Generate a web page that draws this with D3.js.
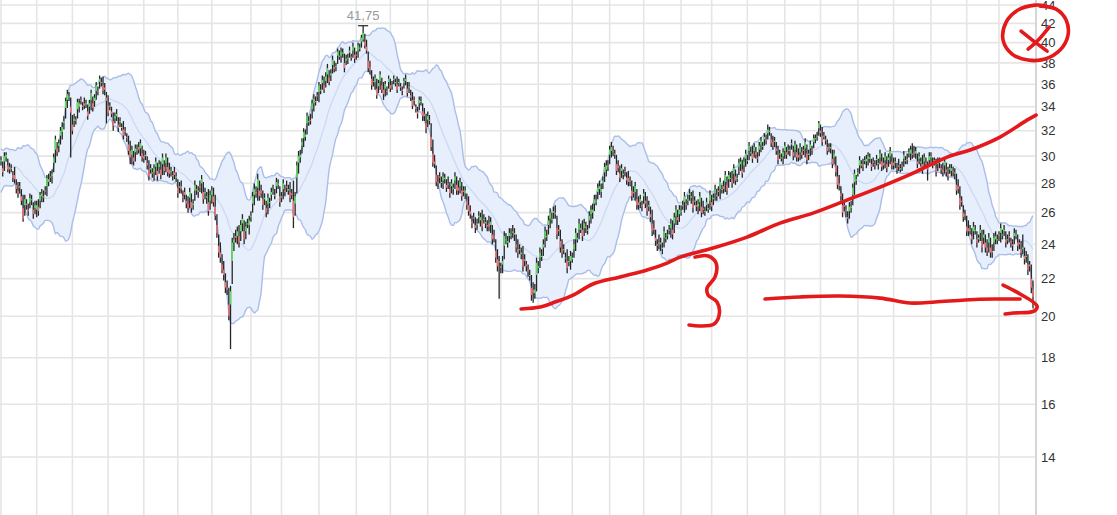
<!DOCTYPE html>
<html><head><meta charset="utf-8">
<script src="https://cdn.jsdelivr.net/npm/d3@7"></script>
<style>html,body{margin:0;padding:0;background:#fff;overflow:hidden}svg{display:block}</style>
</head><body><svg id="c" width="1117" height="515"></svg>
<script>
// ---- daily candles (bar index 0..607) ----
const open=[
29.6,29.1,29.6,29.9,29.3,29.2,29.1,28.6,28.6,27.9,
27.5,27.7,27.1,26.3,26.5,26.6,26.2,26.7,26.9,26.2,
26.3,26.2,26.4,26.8,27.1,27.1,27.5,27.8,28.1,28.5,
28.5,29.5,30.5,30.6,30.8,31.6,31.9,32.6,33.9,34.6,
34.9,34.0,32.5,32.8,32.9,33.8,34.0,34.6,34.1,34.3,
34.2,33.6,34.0,34.6,34.3,34.5,35.4,35.4,36.2,36.2,
35.9,35.7,34.8,34.1,34.1,33.6,32.8,33.0,33.2,32.5,
32.7,32.3,32.1,32.0,31.5,30.9,30.4,30.1,29.9,30.3,
30.5,30.7,30.6,30.2,30.0,30.0,29.5,29.0,29.0,28.8,
28.8,29.2,28.9,29.2,29.0,29.4,29.2,29.5,29.2,29.0,
28.8,28.6,28.8,28.4,27.7,27.7,27.8,27.1,27.4,26.8,
26.6,27.0,26.7,26.5,27.5,27.6,27.4,27.8,28.0,27.4,
27.3,27.0,26.7,26.8,27.2,27.1,26.4,25.2,23.9,23.5,
22.8,22.5,21.8,21.5,20.6,20.6,23.0,24.1,24.5,24.5,
24.5,24.8,25.3,24.8,24.8,25.3,25.2,25.7,26.6,27.2,
27.4,27.7,27.5,27.5,26.9,26.9,26.3,26.6,26.7,27.2,
27.5,27.2,27.8,27.9,27.1,27.0,27.6,27.5,27.8,27.5,
27.4,27.3,26.8,26.6,28.4,29.5,29.9,30.8,31.4,31.5,
32.6,32.7,32.9,33.8,34.3,34.5,35.0,35.3,35.4,36.1,
35.9,36.3,36.9,36.6,36.8,37.8,37.6,37.6,38.7,38.7,
38.7,38.9,38.0,38.2,38.4,39.0,38.6,39.2,38.8,38.8,
39.2,39.4,40.1,40.3,40.1,39.6,38.2,37.6,36.5,36.3,
36.2,35.6,35.8,36.3,35.9,35.5,35.6,35.4,36.2,35.9,
35.9,36.4,36.1,36.0,36.1,35.8,35.5,36.1,36.3,35.6,
35.7,35.0,34.6,34.6,34.0,33.6,34.3,34.4,33.6,33.4,
32.6,32.9,32.9,31.5,30.2,29.6,28.6,28.1,28.5,28.1,
28.2,28.3,27.9,28.0,27.6,27.8,27.6,28.2,27.9,27.7,
27.8,27.5,27.5,27.3,26.8,26.5,26.1,25.4,25.7,25.2,
25.2,25.7,25.5,25.5,25.6,25.3,25.2,25.3,25.2,24.6,
24.5,23.6,23.1,23.0,22.7,22.8,23.9,24.3,24.1,24.5,
24.6,24.8,24.6,24.0,23.7,23.7,23.4,23.1,23.1,22.8,
22.5,22.2,21.5,21.4,21.2,22.2,22.6,23.2,23.3,23.8,
24.4,24.5,25.2,25.6,25.6,26.0,26.0,25.0,24.9,24.2,
23.7,23.7,23.2,23.0,23.0,23.0,23.1,23.7,24.3,24.3,
24.9,24.9,24.9,25.0,25.1,24.9,25.5,25.9,26.0,26.6,
26.8,27.4,27.6,27.4,28.0,28.8,29.0,29.3,30.1,30.4,
30.4,30.1,29.4,29.3,28.7,28.9,28.6,28.9,28.4,28.4,
28.2,27.5,27.4,27.4,26.9,26.7,26.7,26.5,27.1,26.8,
26.4,26.4,25.9,25.3,25.0,24.4,24.0,24.1,24.0,23.7,
24.4,24.4,24.6,24.9,25.0,24.9,25.3,25.8,25.7,25.9,
26.1,26.5,26.7,26.6,26.8,27.2,27.0,26.8,26.8,26.5,
26.4,26.7,26.4,26.3,26.1,26.5,26.2,26.8,26.7,26.9,
27.3,27.2,27.5,27.6,27.6,27.8,28.1,27.9,28.3,28.4,
28.3,28.7,28.5,28.4,29.2,29.4,29.0,29.3,29.8,29.7,
30.4,30.3,30.2,30.4,30.3,29.9,30.5,30.9,30.8,31.3,
31.3,31.8,31.9,31.3,31.1,31.1,30.6,30.1,30.2,29.9,
30.0,30.4,30.3,30.5,30.4,30.9,30.3,30.5,30.3,30.1,
30.3,30.3,30.5,30.6,30.2,30.1,30.6,30.5,31.1,31.3,
31.6,32.2,32.0,31.6,31.6,31.3,30.7,30.7,30.6,29.8,
29.9,29.3,28.5,28.0,27.3,26.5,26.5,26.2,25.7,26.1,
26.3,27.2,28.1,28.2,28.7,29.3,29.3,29.4,29.7,29.6,
29.8,29.8,29.4,29.6,29.4,29.7,29.4,29.9,29.6,29.5,
29.7,29.4,29.7,30.0,29.6,29.5,29.5,29.1,29.3,29.0,
29.3,29.8,29.7,29.8,30.2,30.2,30.2,30.3,30.2,29.6,
29.8,29.5,29.4,29.6,29.5,29.1,29.7,29.9,29.5,29.7,
29.1,29.4,29.5,29.1,29.0,29.3,29.0,28.7,29.0,28.9,
28.9,28.7,27.9,27.8,27.0,26.8,26.0,25.9,25.1,25.0,
24.9,24.5,24.8,24.9,24.3,24.3,24.7,24.2,24.4,24.1,
23.8,24.1,23.8,23.6,24.1,24.3,24.3,24.6,24.7,24.6,
24.8,24.3,24.3,24.5,24.2,24.0,24.5,24.5,24.1,24.1,
23.7,23.7,23.3,23.3,22.8,22.8,22.0,21.4];
const high=[
30.0,29.6,30.3,30.3,29.8,29.5,29.4,28.9,29.2,28.3,
28.1,28.1,27.6,27.2,27.2,26.9,26.6,27.3,27.2,26.7,
26.8,26.8,26.9,27.4,27.6,27.5,27.8,28.6,28.7,28.9,
29.0,30.2,31.6,31.1,31.3,32.3,32.7,33.2,34.8,35.5,
35.3,34.8,33.3,33.4,33.2,34.7,34.7,34.9,34.4,34.8,
34.6,34.2,34.6,35.5,34.9,35.1,36.2,35.8,36.8,36.6,
36.7,36.1,35.3,35.0,34.4,34.0,33.5,33.5,33.8,33.1,
33.1,32.6,32.8,32.3,31.8,31.6,31.2,30.8,30.4,30.9,
30.9,31.1,31.3,30.8,30.5,30.4,30.0,29.7,29.4,29.1,
29.4,29.9,29.5,29.7,29.6,30.2,29.7,30.2,29.9,29.5,
29.2,28.9,29.2,28.8,28.3,28.1,28.2,27.5,27.7,27.2,
27.1,27.7,27.3,26.9,28.2,27.9,27.8,28.2,28.6,28.1,
27.7,27.4,27.6,27.5,27.8,27.7,27.2,25.9,24.6,24.1,
23.4,23.0,22.3,21.9,21.5,21.6,24.4,24.7,24.9,25.1,
25.2,25.5,25.9,25.5,25.4,25.6,25.8,26.1,27.4,28.0,
27.8,28.7,28.2,27.9,27.5,27.3,26.8,27.3,27.0,27.7,
27.9,27.6,28.4,28.3,27.8,27.4,28.3,27.9,28.2,27.9,
28.1,27.6,28.2,27.4,29.6,30.4,30.5,31.4,32.2,32.1,
33.5,33.2,33.4,34.6,35.1,34.9,35.3,36.2,36.0,36.8,
36.7,37.1,37.9,37.3,37.4,38.7,38.2,38.0,39.4,39.2,
39.5,39.4,38.9,38.8,38.9,39.6,38.9,40.0,39.5,39.1,
40.0,39.9,40.8,41.75,40.9,40.3,39.1,38.2,37.3,36.7,
36.9,36.5,36.4,37.2,36.6,36.2,36.3,35.8,36.8,36.5,
36.3,36.8,36.5,36.7,36.5,36.1,35.8,36.6,36.9,36.2,
36.2,35.5,35.3,34.9,34.2,34.0,34.9,34.9,34.3,33.9,
33.4,33.6,33.3,32.6,31.3,30.1,29.3,28.6,28.8,28.5,
28.8,28.7,28.3,28.5,28.1,28.3,28.0,28.8,28.5,28.2,
28.4,28.1,27.8,27.8,27.3,27.1,26.5,25.8,26.0,25.7,
25.6,26.1,26.0,26.2,25.9,25.7,25.5,25.8,25.7,25.2,
24.9,24.3,23.7,23.3,22.9,23.3,24.8,24.7,24.5,25.0,
25.0,25.2,25.0,24.6,24.3,24.0,23.8,23.9,23.4,23.0,
22.8,22.5,22.2,21.8,21.7,23.2,23.0,23.8,23.7,24.3,
25.1,24.9,25.8,26.3,26.0,26.4,26.5,25.8,25.2,24.9,
24.3,24.0,23.5,23.7,23.3,23.6,23.5,24.3,25.0,24.7,
25.6,25.3,25.5,25.6,25.4,25.2,26.1,26.5,26.6,27.2,
27.2,28.0,28.2,28.0,28.5,29.5,29.7,29.7,30.8,31.1,
30.8,30.5,30.1,29.7,29.3,29.4,29.0,29.2,28.8,28.9,
28.5,28.2,27.8,28.1,27.6,27.1,27.2,26.8,27.6,27.4,
27.1,26.8,26.4,26.2,25.5,24.9,24.3,24.6,24.4,24.1,
25.1,24.7,24.9,25.2,25.6,25.5,26.0,26.5,26.2,26.5,
26.5,26.8,27.4,26.9,27.2,27.6,27.4,27.5,27.1,26.8,
26.9,27.4,27.0,26.8,26.4,27.0,26.6,27.5,27.2,27.3,
27.9,27.6,27.8,28.4,27.9,28.2,28.9,28.5,28.9,28.8,
28.9,29.4,29.0,28.7,29.8,29.9,29.7,29.9,30.5,30.1,
31.1,30.7,30.8,31.0,30.7,30.3,31.1,31.5,31.1,31.8,
31.7,32.5,32.3,31.8,31.6,31.5,31.1,30.8,30.5,30.2,
30.6,31.1,30.7,30.9,30.8,31.3,30.8,31.2,30.9,30.6,
31.0,30.7,30.8,31.4,30.9,30.5,31.2,30.8,31.7,31.7,
31.9,32.8,32.5,32.3,31.9,31.6,31.3,31.0,31.0,30.5,
30.5,30.0,29.3,28.6,27.8,27.3,26.8,26.5,26.1,26.7,
26.8,28.0,29.0,28.6,29.1,30.0,29.7,29.8,30.0,30.1,
30.3,30.2,29.8,29.9,29.7,30.1,29.8,30.5,30.2,29.9,
30.3,30.0,30.2,30.7,30.2,29.9,29.9,29.5,29.8,29.4,
29.6,30.4,30.0,30.2,30.6,30.8,31.0,30.8,30.7,30.2,
30.3,29.9,30.1,30.2,29.9,29.6,30.3,30.3,29.9,29.9,
29.8,29.9,29.9,29.4,29.5,29.9,29.5,29.2,29.4,29.4,
29.2,29.1,28.7,28.3,27.8,27.1,26.5,26.2,25.8,25.5,
25.2,25.0,25.4,25.2,24.8,24.6,25.2,24.9,24.9,24.6,
24.3,24.7,24.4,24.0,24.7,24.8,24.6,24.8,25.3,24.9,
25.2,24.8,24.6,24.8,24.4,24.3,25.0,24.9,24.6,24.3,
24.2,24.6,23.8,23.6,23.4,23.0,22.8,21.9];
const low=[
29.3,28.5,28.9,29.6,28.8,28.7,28.8,28.1,28.0,27.3,
27.0,27.3,26.5,25.4,25.8,26.2,25.8,26.3,26.5,25.6,
25.9,25.7,25.8,26.3,26.7,26.7,27.2,27.1,27.8,28.1,
28.0,28.8,29.5,30.0,30.3,30.9,31.3,32.1,33.0,33.9,
34.5,29.9,31.7,32.3,32.5,33.0,33.5,34.2,33.7,33.8,
33.9,32.9,33.4,33.7,33.6,34.0,34.6,35.0,35.6,35.8,
35.1,35.0,32.6,33.2,33.7,33.1,32.0,32.6,32.8,31.9,
32.3,32.0,31.3,31.6,31.1,30.1,29.4,29.4,29.3,29.6,
30.1,30.2,30.0,29.6,29.5,29.7,29.0,28.2,28.7,28.4,
28.2,28.6,28.2,28.7,28.3,28.6,28.6,28.8,28.5,28.4,
28.5,28.2,28.3,28.1,27.0,27.3,27.3,26.7,26.9,26.3,
26.0,26.3,26.0,26.2,26.8,27.2,27.0,27.4,27.3,26.6,
26.9,26.6,25.8,26.2,26.6,26.4,25.5,24.4,23.2,22.9,
22.3,21.9,21.2,21.1,19.8,18.4,21.7,23.6,24.1,24.0,
23.8,24.2,24.8,24.0,24.3,25.0,24.6,25.4,26.0,26.5,
27.0,26.8,26.8,27.0,26.2,26.5,25.7,25.9,26.3,26.8,
27.2,26.9,27.3,27.6,26.4,26.7,26.9,27.1,27.4,27.2,
26.7,26.9,25.0,25.8,27.3,28.7,29.5,30.2,30.7,31.2,
31.7,32.4,32.5,33.0,33.6,34.1,34.5,34.4,35.1,35.5,
35.2,35.7,36.1,35.9,36.3,37.0,37.1,37.2,37.9,38.3,
38.0,38.5,37.1,37.8,37.9,38.5,38.2,38.5,38.0,38.3,
38.5,39.1,39.5,40.1,39.4,38.9,37.1,36.9,35.5,35.8,
35.5,34.7,35.2,35.5,35.2,34.6,34.9,35.0,35.6,35.3,
35.5,36.0,35.8,35.2,35.8,35.4,35.0,35.6,35.9,34.9,
35.2,34.5,33.8,34.1,33.5,33.0,33.7,34.1,32.8,32.8,
31.8,32.3,32.5,30.4,29.2,29.1,27.8,27.6,28.0,27.7,
27.6,28.0,27.4,27.6,27.0,27.3,27.2,27.6,27.2,27.2,
27.3,26.8,27.1,26.9,26.2,25.8,25.6,25.0,25.3,24.7,
24.9,25.3,25.1,24.8,25.3,25.0,24.8,24.8,24.7,24.0,
24.1,22.9,22.4,20.9,22.3,22.3,23.1,24.0,23.8,24.1,
24.3,24.4,24.2,23.5,23.2,23.4,23.1,22.4,22.7,22.4,
22.1,21.9,20.8,20.7,20.9,21.3,22.3,22.6,23.0,23.3,
23.8,24.2,24.6,25.0,25.3,25.6,25.6,24.3,24.5,23.5,
23.2,23.4,22.9,22.3,22.7,22.5,22.9,23.2,23.6,24.1,
24.3,24.7,24.2,24.5,24.7,24.6,25.0,25.3,25.6,26.1,
26.5,26.9,27.2,27.0,27.6,28.1,28.5,28.9,29.4,29.9,
30.0,29.8,28.6,28.8,28.1,28.4,28.3,28.5,27.9,27.8,
27.8,26.8,27.0,26.8,26.2,26.2,26.3,26.1,26.6,26.3,
25.8,26.1,25.4,24.5,24.6,23.9,23.6,23.7,23.6,23.4,
23.8,24.1,24.3,24.6,24.4,24.3,24.7,25.2,25.2,25.4,
25.8,26.2,26.0,26.2,26.5,26.8,26.6,26.0,26.5,26.1,
25.9,26.1,25.7,25.9,25.8,26.1,26.0,26.2,26.1,26.5,
26.8,26.8,27.1,26.9,27.3,27.3,27.4,27.2,27.7,28.1,
27.7,28.0,27.9,28.1,28.6,28.9,28.4,28.8,29.2,29.4,
29.7,30.0,29.5,29.9,29.8,29.5,30.0,30.3,30.5,30.8,
30.9,31.3,31.6,30.7,30.5,30.7,30.1,29.4,29.8,29.6,
29.4,29.8,29.8,30.1,30.0,30.5,29.7,29.9,29.6,29.6,
29.7,29.8,30.1,29.9,29.4,29.7,30.0,30.1,30.6,31.0,
31.2,31.6,31.5,30.8,31.3,30.9,30.1,30.3,30.2,29.1,
29.4,28.5,27.6,27.5,26.8,25.7,26.1,25.7,25.3,25.6,
26.0,26.5,27.2,27.9,28.5,28.7,29.1,28.9,29.4,29.1,
29.3,29.5,28.9,29.2,29.0,29.3,29.0,29.4,28.9,29.0,
29.1,28.8,29.2,29.4,29.0,29.0,29.1,28.7,28.9,28.8,
28.9,29.2,29.4,29.4,29.9,29.7,29.8,29.9,29.8,29.1,
29.4,29.2,28.7,29.1,29.1,28.2,29.2,29.5,29.1,29.3,
28.5,28.9,29.1,28.7,28.5,28.7,28.5,28.2,28.7,28.5,
28.5,28.3,27.2,27.3,26.2,26.4,25.4,25.5,24.5,24.5,
24.6,24.0,24.3,24.6,23.8,24.1,24.2,23.5,24.0,23.5,
23.3,23.5,23.2,23.2,23.6,24.0,24.0,24.2,24.1,24.3,
24.5,23.8,24.0,24.1,23.8,23.6,24.0,24.3,23.6,23.7,
23.2,23.4,22.8,22.9,22.2,22.4,21.2,20.4];
const close=[
29.7,28.8,30.0,30.1,29.0,29.0,29.1,28.4,28.3,27.6,
27.3,27.8,26.8,25.6,26.9,26.5,26.1,27.0,26.9,25.9,
26.5,26.5,26.1,27.2,27.3,27.0,27.5,28.4,28.3,28.4,
28.7,29.9,31.3,30.3,31.0,32.0,32.3,32.8,34.5,35.1,
34.9,33.5,32.0,33.0,32.8,34.4,34.3,34.5,34.0,34.1,
34.3,33.2,34.3,35.2,33.9,34.8,35.9,35.3,36.5,36.1,
35.4,35.5,34.5,33.5,34.1,33.4,32.4,33.2,33.4,32.2,
32.8,32.3,31.6,31.9,31.4,30.4,29.9,30.5,29.6,30.6,
30.4,30.5,31.0,29.9,29.8,30.1,29.3,28.5,29.1,28.7,
29.1,29.6,28.5,29.4,28.6,29.9,28.9,29.9,28.8,28.7,
28.9,28.5,28.6,28.5,27.3,27.8,27.6,27.0,27.2,26.6,
26.3,27.4,26.3,26.6,27.9,27.5,27.5,27.7,28.3,26.9,
27.4,27.1,26.1,27.2,27.5,26.7,25.8,24.7,23.5,23.2,
22.5,22.2,21.5,21.4,20.0,21.3,24.1,24.3,24.4,24.8,
24.1,25.2,25.6,24.3,25.1,25.3,25.5,25.8,27.1,27.6,
27.3,28.3,27.1,27.3,26.5,27.0,26.0,27.0,26.7,27.4,
27.5,27.2,28.1,28.0,26.7,27.1,28.0,27.4,27.7,27.6,
27.0,27.2,25.7,27.1,29.3,30.0,30.1,31.1,31.9,31.7,
33.2,32.8,32.8,34.3,34.7,34.4,34.9,35.9,35.5,36.4,
35.5,36.7,37.5,36.2,37.0,38.3,37.4,37.7,39.1,38.7,
39.1,39.0,37.5,38.4,38.5,39.2,38.5,39.6,38.4,38.7,
39.7,39.5,40.5,41.0,39.7,39.2,37.5,37.3,35.9,36.2,
36.6,35.0,36.1,36.9,35.5,35.1,36.0,35.3,36.5,35.6,
35.9,36.5,36.2,35.5,36.2,35.7,35.4,36.3,36.5,35.2,
35.8,34.8,34.1,34.5,33.8,33.4,34.6,34.5,33.2,33.2,
32.2,33.2,32.8,30.7,29.5,29.4,28.1,28.0,28.4,28.1,
28.5,28.4,27.7,27.9,27.3,28.0,27.7,28.5,27.5,27.5,
28.1,27.1,27.4,27.5,26.5,26.1,25.9,25.3,25.6,25.0,
25.3,25.8,25.7,25.1,25.6,25.4,25.1,25.1,25.4,24.3,
24.4,23.2,22.7,22.9,22.6,23.0,24.5,24.3,24.2,24.7,
24.6,24.7,24.7,23.8,23.5,23.7,23.5,22.7,23.0,22.7,
22.4,22.2,21.1,21.2,21.4,22.9,22.7,23.5,23.3,24.0,
24.8,24.5,25.5,26.0,25.6,26.1,25.9,24.6,24.8,23.8,
23.5,23.7,23.2,22.6,23.0,23.3,23.2,24.0,24.7,24.4,
25.3,25.0,24.5,25.3,25.0,24.9,25.8,26.2,26.2,26.9,
26.8,27.7,27.8,27.6,28.2,29.2,29.3,29.2,30.5,30.7,
30.3,30.2,28.9,29.1,28.4,29.1,28.7,28.8,28.2,28.1,
28.2,27.1,27.3,27.8,26.5,26.5,26.9,26.4,27.3,26.6,
26.1,26.5,25.7,24.8,24.9,24.2,23.9,24.0,24.1,23.8,
24.8,24.4,24.6,24.9,25.3,24.6,25.7,26.2,25.5,26.2,
26.1,26.5,27.1,26.5,26.9,27.3,27.1,26.3,26.8,26.4,
26.6,27.1,26.0,26.2,26.1,26.7,26.3,27.2,26.4,27.0,
27.6,27.1,27.4,28.1,27.6,27.6,28.6,27.5,28.6,28.4,
28.0,29.1,28.2,28.4,29.5,29.6,28.7,29.6,30.2,29.7,
30.8,30.3,29.8,30.7,30.1,29.8,30.8,31.2,30.8,31.5,
31.2,32.1,32.0,31.0,30.8,31.2,30.4,29.7,30.2,29.9,
30.3,30.8,30.1,30.4,30.5,31.0,30.0,30.9,29.9,29.9,
30.7,30.1,30.4,31.1,29.7,30.2,30.9,30.4,31.4,31.4,
31.6,32.6,31.8,31.1,31.6,31.2,30.4,30.6,30.7,29.4,
30.2,28.8,27.9,27.8,27.1,26.0,26.4,26.2,25.6,26.4,
26.4,27.7,28.7,28.3,28.8,29.7,29.4,29.2,29.7,29.8,
30.0,29.9,29.2,29.5,29.3,29.8,29.5,30.2,29.2,29.3,
30.0,29.1,29.9,30.4,29.3,29.3,29.6,29.0,29.2,29.1,
29.2,30.1,29.7,29.7,30.3,30.5,30.1,30.2,30.4,29.4,
30.0,29.6,29.0,29.9,29.4,29.0,30.0,30.0,29.4,29.6,
28.8,29.6,29.6,29.0,28.8,29.6,28.8,28.5,29.1,29.1,
28.8,28.8,27.5,27.6,26.5,26.7,25.7,25.8,24.8,24.8,
24.9,24.3,25.1,24.9,24.1,24.4,24.9,23.8,24.6,23.8,
23.6,24.4,23.5,23.5,24.4,24.5,24.3,24.5,25.0,24.6,
24.9,24.1,24.3,24.4,24.1,23.9,24.7,24.6,23.9,24.0,
23.5,23.8,23.1,23.3,22.5,22.7,21.5,21.0];
// closes of the 20 sessions before the first visible bar (Bollinger warm-up, estimated from the band at the left edge)
const warmupClose=[27.6,27.3,27.8,28.6,29.4,29.9,29.1,28.3,27.7,28.0,29.0,29.7,30.3,29.9,29.3,28.6,28.9,29.6,29.3,29.0];
const bbPeriod=20, bbMult=2;
// first bar of each month (vertical grid)
const monthStarts=[0,21,42,63,84,104,124,147,165,187,209,229,251,273,294,316,336,358,378,400,418,439,461,482,504,525,547,568,587];
const yTicks=[14,16,18,20,22,24,26,28,30,32,34,36,38,40,42,44];
// hand-drawn annotations, in [bar index, price]
const trendLine=[[305.9,20.37],[317.1,20.47],[325.9,20.73],[336.5,21.10],[348.2,21.70],[364.1,22.09],[380,22.48],[391.8,22.88],[399.4,23.23],[418.8,23.77],[438.8,24.44],[458.2,25.32],[477.6,25.97],[497.6,26.84],[517.1,27.74],[536.5,28.74],[556.5,29.93],[570,30.47],[587.6,31.49],[603.5,32.87],[608.8,33.29]];
const bracket=[[408.2,23.23],[415.9,23.30],[420.6,22.88],[420,22.09],[415.3,21.48],[415.9,21.10],[421.2,20.73],[422.4,20.06],[419.4,19.61],[411.2,19.51],[404.7,19.56]];
const flatLine=[[449.4,20.89],[470,21.00],[493.5,21.05],[517.1,20.94],[534.7,20.68],[549.4,20.73],[567.1,20.84],[584.7,20.89],[599.4,20.89]];
const arrowHead=[[589.4,21.64],[599.4,21.16],[609.4,20.52],[607.6,20.26],[595.3,20.16],[590.6,20.11]];
const circleMark=[[611.2,43.88],[620.6,43.55],[626.5,42.35],[627.6,40.77],[622.9,39.25],[614.1,38.37],[604.1,38.27],[594.7,38.86],[589.4,40.25],[591.2,42.13],[598.2,43.44],[608.2,43.99],[614.7,43.88]];
const crossA=[[600,41.19],[608.2,40.05],[615.3,39.15]];
const crossB=[[604.1,39.35],[610,40.25],[616.5,41.61]];

// ---------------- drawing ----------------
const W=1117,H=515,axisX=1036;
const svg=d3.select('#c');
const x=d3.scaleLinear().domain([0,close.length-1]).range([1,1033]);
const y=d3.scaleLog().domain([14,44]).range([457,5]);

svg.append('defs').append('clipPath').attr('id','plot').append('rect').attr('x',0).attr('y',0).attr('width',axisX).attr('height',H);

// grid
const grid=svg.append('g');
grid.selectAll('line.v').data(monthStarts).join('line').attr('class','v')
  .attr('x1',d=>x(d)).attr('x2',d=>x(d)).attr('y1',0).attr('y2',H)
  .attr('stroke','#e5e5e5').attr('stroke-width',1.6);
grid.selectAll('line.h').data(yTicks).join('line').attr('class','h')
  .attr('x1',0).attr('x2',axisX).attr('y1',d=>y(d)).attr('y2',d=>y(d))
  .attr('stroke','#e5e5e5').attr('stroke-width',1.6);

// Bollinger bands (20, 2)
const allC=warmupClose.concat(close);
const bands=close.map((c,i)=>{
  const w=allC.slice(i+warmupClose.length-bbPeriod+1,i+warmupClose.length+1);
  const m=d3.mean(w); const sd=Math.sqrt(d3.mean(w,v=>(v-m)*(v-m)));
  return {i,m,u:m+bbMult*sd,l:m-bbMult*sd};
});
const plot=svg.append('g').attr('clip-path','url(#plot)');
plot.append('path').datum(bands)
  .attr('d',d3.area().x(d=>x(d.i)).y0(d=>y(d.l)).y1(d=>y(d.u)).curve(d3.curveMonotoneX))
  .attr('fill','#e7eefc');
const ln=k=>d3.line().x(d=>x(d.i)).y(d=>y(d[k])).curve(d3.curveMonotoneX);
plot.append('path').datum(bands).attr('d',ln('m')).attr('fill','none').attr('stroke','#c9d8f3').attr('stroke-width',1.2);
plot.append('path').datum(bands).attr('d',ln('u')).attr('fill','none').attr('stroke','#a9bee8').attr('stroke-width',1.4);
plot.append('path').datum(bands).attr('d',ln('l')).attr('fill','none').attr('stroke','#a9bee8').attr('stroke-width',1.4);

// candles
const bars=close.map((c,i)=>({i,o:open[i],h:high[i],l:low[i],c}));
const cg=plot.append('g');
cg.selectAll('line').data(bars).join('line')
  .attr('x1',d=>x(d.i)).attr('x2',d=>x(d.i))
  .attr('y1',d=>y(d.h)).attr('y2',d=>y(d.l))
  .attr('stroke','#262626').attr('stroke-width',1.3);
cg.selectAll('rect').data(bars).join('rect')
  .attr('x',d=>x(d.i)-0.75).attr('width',1.5)
  .attr('y',d=>y(Math.max(d.o,d.c)))
  .attr('height',d=>Math.max(1,y(Math.min(d.o,d.c))-y(Math.max(d.o,d.c))))
  .attr('fill',d=>d.c>=d.o?'#5fe35f':'#f07474');

// max marker
const iMax=d3.maxIndex(high);
const fmt=d3.formatLocale({decimal:',',thousands:'.',grouping:[3],currency:['','']}).format('.2f');
svg.append('line').attr('x1',x(iMax)-5).attr('x2',x(iMax)+5).attr('y1',y(high[iMax])).attr('y2',y(high[iMax])).attr('stroke','#222').attr('stroke-width',1.2);
svg.append('text').attr('x',x(iMax)).attr('y',y(high[iMax])-6).attr('text-anchor','middle')
  .attr('font-family','Liberation Sans, Arial, sans-serif').attr('font-size',13).attr('fill','#9a9a9a').text(fmt(high[iMax]));

// y axis
svg.append('line').attr('x1',axisX).attr('x2',axisX).attr('y1',0).attr('y2',H).attr('stroke','#d6d6d6').attr('stroke-width',2);
const ax=svg.append('g').attr('transform',`translate(${axisX},0)`)
  .call(d3.axisRight(y).tickValues(yTicks).tickFormat(d3.format('d')).tickSize(0).tickPadding(5));
ax.select('.domain').remove();
ax.selectAll('text').attr('font-family','Liberation Sans, Arial, sans-serif').attr('font-size',13).attr('fill','#333');

// annotations
const an=svg.append('g').attr('fill','none').attr('stroke','#e3191b').attr('stroke-width',3.6)
  .attr('stroke-linecap','round').attr('stroke-linejoin','round');
const pl=d3.line().x(d=>x(d[0])).y(d=>y(d[1])).curve(d3.curveCatmullRom);
[trendLine,bracket,flatLine,arrowHead,circleMark,crossA,crossB].forEach(p=>an.append('path').attr('d',pl(p)));
</script></body></html>
